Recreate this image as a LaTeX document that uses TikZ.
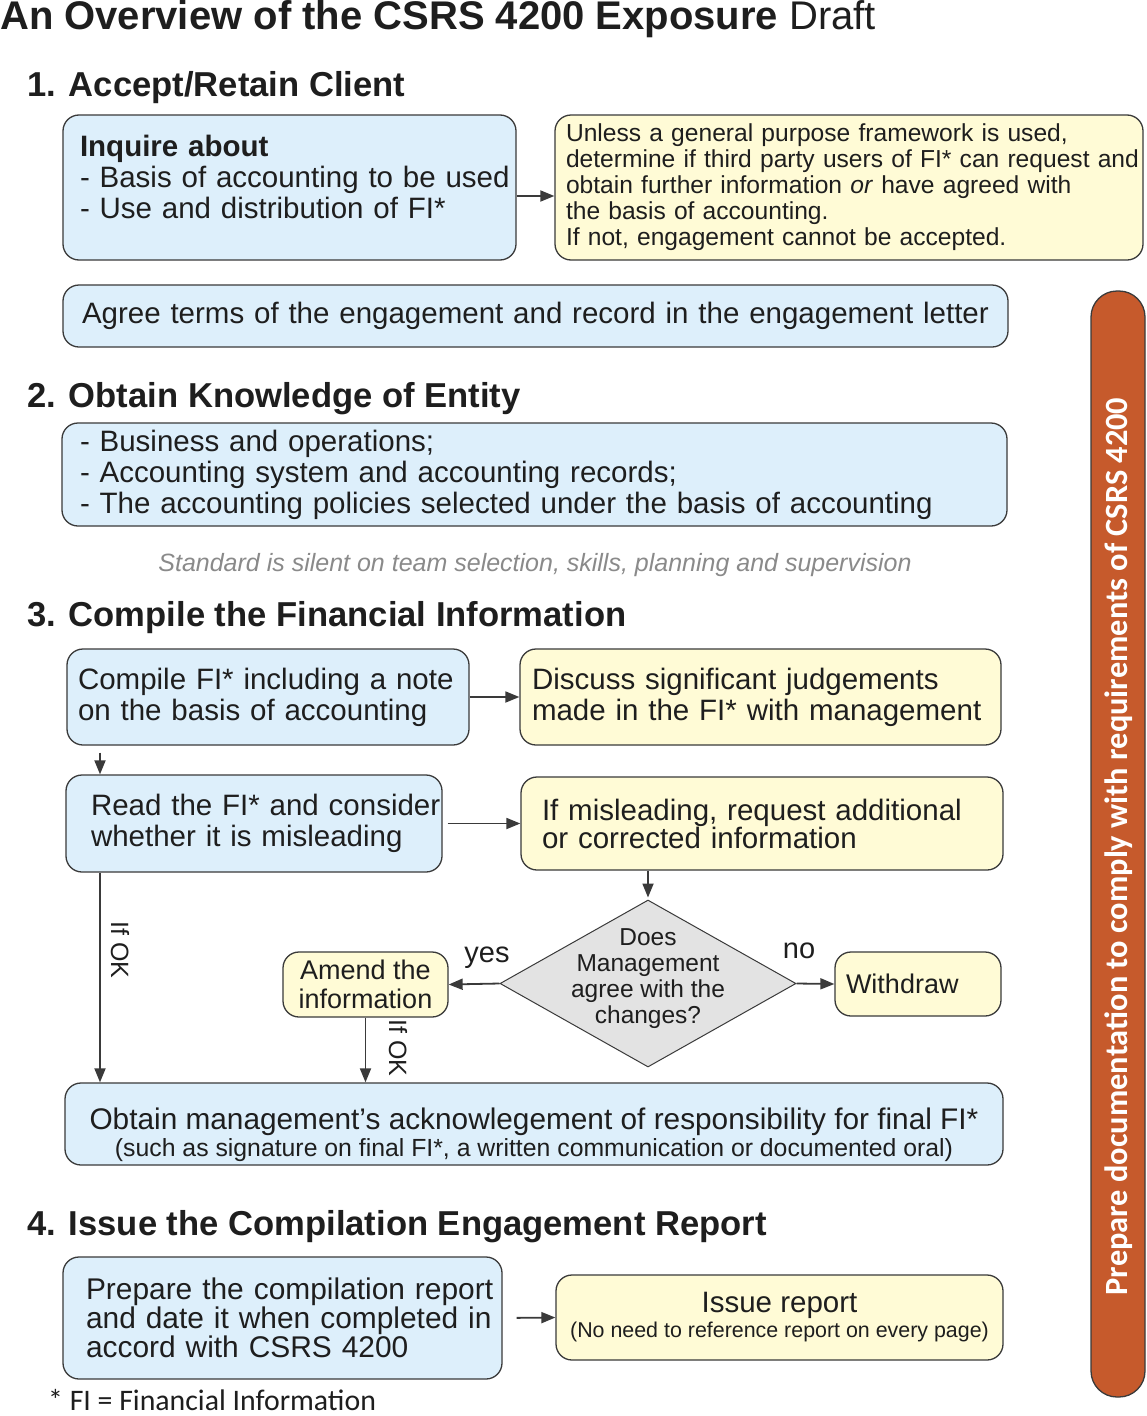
\documentclass[tikz,border=0pt]{standalone}
\usepackage{fontspec}
\setmainfont{Liberation Sans}
\newfontfamily\carlito{Carlito}
\usetikzlibrary{arrows.meta,shapes.geometric,calc}
\definecolor{bluef}{HTML}{DDEFFB}
\definecolor{yelf}{HTML}{FFFBD6}
\definecolor{bordc}{HTML}{3A3A3A}
\definecolor{orangef}{HTML}{C65A2C}
\definecolor{diaf}{HTML}{E3E3E3}
\definecolor{txtc}{HTML}{1E1E1E}
\definecolor{notec}{HTML}{8A8A8A}
\newcommand\fz[2]{\fontsize{#1}{#2}\selectfont}
\begin{document}
\begin{tikzpicture}[x=1pt,y=-1pt,
 every node/.style={text=txtc},
 boxbase/.style={draw=bordc, line width=1.3pt, rounded corners=16pt, align=left, inner ysep=0pt},
 bluebox/.style={boxbase, fill=bluef},
 yelbox/.style={boxbase, fill=yelf},
 arr/.style={draw=bordc, line width=1.8pt, -{Triangle[length=14pt,width=11pt]}},
 head/.style={anchor=base west, inner sep=0pt, font=\bfseries\fz{34.6}{40}},
 bodyf/.style={font=\fz{29.5}{31}},
]
\useasboundingbox (0,0) rectangle (1146,1416);
\fill[white] (0,0) rectangle (1146,1416);

% title
\node[anchor=base west, inner sep=0pt] (title) at (0,29) {\fz{40}{44}\textbf{An Overview of the CSRS 4200 Exposure} Draft};

% section 1
\node[head] (h1) at (27,96) {1. Accept/Retain Client};
\node[bluebox, bodyf, minimum width=453pt, minimum height=145pt, inner xsep=17pt, text width=419pt] (a) at (289.5,187.5)
 {\mbox{\textbf{Inquire about}}\\\mbox{- Basis of accounting to be used}\\\mbox{- Use and distribution of FI*}\\[-9pt]\mbox{}};
\node[yelbox, font=\fz{24.6}{26}, minimum width=588pt, minimum height=145pt, inner xsep=11pt, text width=566pt] (b) at (849,187.5)
 {\mbox{Unless a general purpose framework is used,}\\\mbox{determine if third party users of FI* can request and}\\\mbox{obtain further information \textit{or} have agreed with}\\\mbox{the basis of accounting.}\\\mbox{If not, engagement cannot be accepted.}};
\node[bluebox, bodyf, minimum width=945pt, minimum height=62pt, inner xsep=19pt, text width=907pt] (c) at (535.5,316)
 {\mbox{Agree terms of the engagement and record in the engagement letter}};

% section 2
\node[head] (h2) at (27,407) {2. Obtain Knowledge of Entity};
\node[bluebox, bodyf, minimum width=945pt, minimum height=103pt, inner xsep=18pt, text width=909pt] (d) at (534.5,474.5)
 {\mbox{- Business and operations;}\\\mbox{- Accounting system and accounting records;}\\\mbox{- The accounting policies selected under the basis of accounting}};
\node[font=\itshape\fz{25}{28}, text=notec] (note) at (535,565) {Standard is silent on team selection, skills, planning and supervision};

% section 3
\node[head] (h3) at (27,626) {3. Compile the Financial Information};
\node[bluebox, bodyf, minimum width=402pt, minimum height=96pt, inner xsep=11pt, text width=380pt] (e) at (268,697)
 {\mbox{Compile FI* including a note}\\\mbox{on the basis of accounting}};
\node[yelbox, bodyf, minimum width=481pt, minimum height=96pt, inner xsep=12pt, text width=457pt] (f) at (760.5,697)
 {\mbox{Discuss significant judgements}\\\mbox{made in the FI* with management}};
\node[bluebox, bodyf, minimum width=376pt, minimum height=97pt, inner xsep=25pt, text width=326pt] (g) at (254,823.5)
 {\mbox{Read the FI* and consider}\\\mbox{whether it is misleading}};
\node[yelbox, font=\fz{29.5}{28}, minimum width=482pt, minimum height=93pt, inner xsep=21pt, text width=440pt] (h) at (762,823.5)
 {\mbox{If misleading, request additional}\\\mbox{or corrected information}};

\node[diamond, draw=bordc, line width=1pt, fill=diaf, minimum width=296pt, minimum height=167pt, inner sep=0pt] (dia) at (648,983.5) {};
\node[align=center, font=\fz{24.5}{26}] (diatxt) at (648,979) {Does\\Management\\agree with the\\changes?};

\node[yelbox, align=center, font=\fz{27}{29}, minimum width=165pt, minimum height=65pt, inner xsep=4pt] (amend) at (365.5,984.5) {Amend the\\information};
\node[yelbox, font=\fz{27}{29}, minimum width=166pt, minimum height=64pt, inner xsep=11pt, text width=144pt] (withdraw) at (918,984) {Withdraw};

\node[bluebox, align=center, font=\fz{24.8}{27}, minimum width=938pt, minimum height=82pt, inner xsep=4pt] (i) at (534,1124)
 {\mbox{}\\[16pt]{\fz{29.8}{27}Obtain management’s acknowlegement of responsibility for final FI*}\\{\fz{24.8}{27}(such as signature on final FI*, a written communication or documented oral)}};

% labels
\node[font=\fz{29}{31}] (yes) at (487,958) {yes};
\node[font=\fz{29}{31}] (no) at (799,951) {no};
\node[font=\fz{25}{28}, rotate=-90] (ok1) at (120,950) {If OK};
\node[font=\fz{25}{28}, rotate=-90] (ok2) at (398,1048) {If OK};

% section 4
\node[head] (h4) at (27,1235) {4. Issue the Compilation Engagement Report};
\node[bluebox, font=\fz{29.9}{29}, minimum width=439pt, minimum height=122pt, inner xsep=23pt, text width=393pt] (j) at (282.5,1318)
 {\mbox{Prepare the compilation report}\\\mbox{and date it when completed in}\\\mbox{accord with CSRS 4200}};
\node[yelbox, align=center, font=\fz{21.4}{25}, minimum width=447pt, minimum height=85pt, inner xsep=4pt] (k) at (779.5,1317.5)
 {{\fz{29.5}{25}Issue report}\\{\fz{21.4}{25}(No need to reference report on every page)}};

% side bar
\node[draw=bordc, line width=1.3pt, fill=orangef, rounded corners=26pt, minimum width=54pt, minimum height=1106pt, inner sep=0pt] (bar) at (1118,844) {};
\node[rotate=90, text=white, font=\carlito\bfseries\fz{32.4}{34}] (bartxt) at (1119,846.5) {Prepare documentation to comply with requirements of CSRS 4200};

% footnote
\node[anchor=base west, inner sep=0pt, font=\carlito\fz{29.8}{30}] (foot) at (48,1410) {* FI = Financial Information};

% connectors
\coordinate (xa) at (100,0);
\draw[arr] ([yshift=-8.5pt]a.east) -- ([yshift=-8.5pt]b.west);
\draw[arr] (e.east) -- (f.west);
\draw[arr, shorten <=7pt] (e.south -| xa) -- (g.north -| xa);
\draw[arr, shorten <=5pt] (g.east) -- (h.west);
\draw[arr, shorten >=2pt] (h.south -| dia.north) -- (dia.north);
\draw[arr] (dia.west) -- (amend.east);
\draw[arr] (dia.east) -- (withdraw.west);
\draw[arr] (g.south -| xa) -- (i.north -| xa);
\draw[arr] (amend.south) -- (amend.south |- i.north);
\draw[arr, shorten <=14pt] (j.east) -- (k.west);
\end{tikzpicture}
\end{document}
